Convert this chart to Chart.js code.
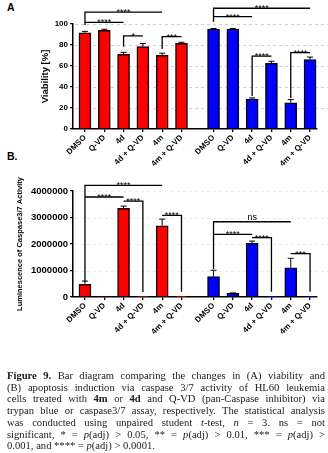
<!DOCTYPE html>
<html>
<head>
<meta charset="utf-8">
<script src="https://cdn.jsdelivr.net/npm/chart.js@4.4.0/dist/chart.umd.min.js"></script>
<style>
  body { margin: 0; background: #fff; width: 328px; height: 453px; overflow: hidden; position: relative; }
  canvas { position: absolute; left: 0; }
  #chartA { top: 0; }
  #chartB { top: 150px; }
  .tag { position: absolute; left: 7px; font: bold 10.5px 'Liberation Sans', Arial, sans-serif; line-height: 10px; color: #000; }
  #caption { position: absolute; left: 7px; top: 370px; width: 318px; font-family: 'Liberation Serif', 'Times New Roman', serif; font-size: 10.6px; line-height: 11.7px; color: #1a1a1a; }
  #caption .ln { text-align: justify; text-align-last: justify; white-space: nowrap; }
  #caption .last { text-align-last: left; }
</style>
</head>
<body>
<div class="tag" style="top:2px">A</div>
<div class="tag" style="top:151px">B.</div>
<canvas id="chartA" width="328" height="170"></canvas>
<canvas id="chartB" width="328" height="195"></canvas>
<div id="caption">
  <div class="ln"><b>Figure 9.</b> Bar diagram comparing the changes in (A) viability and</div>
  <div class="ln">(B) apoptosis induction via caspase 3/7 activity of HL60 leukemia</div>
  <div class="ln">cells treated with <b>4m</b> or <b>4d</b> and Q-VD (pan-Caspase inhibitor) via</div>
  <div class="ln">trypan blue or caspase3/7 assay, respectively. The statistical analysis</div>
  <div class="ln">was conducted using unpaired student <i>t</i>-test, <i>n</i> = 3. ns = not</div>
  <div class="ln">significant, * = <i>p</i>(adj) &gt; 0.05, ** = <i>p</i>(adj) &gt; 0.01, *** = <i>p</i>(adj) &gt;</div>
  <div class="ln last">0.001, and **** = <i>p</i>(adj) &gt; 0.0001.</div>
</div>
<script>
var groups = ['DMSO', 'Q-VD', '4d', '4d + Q-VD', '4m', '4m + Q-VD'];

// (A) viability, %
var viabilityRed = [91.7, 94, 71, 78.4, 70.2, 81.6];
var viabilityRedErr = [1.3, 1, 2, 3, 2, 1];
var viabilityBlue = [95.2, 95.2, 28.6, 62.5, 25, 66];
var viabilityBlueErr = [0.5, 0.5, 1, 2, 3, 2.5];
var viabilityTicks = [0, 20, 40, 60, 80, 100];

// (B) caspase 3/7 luminescence
var caspaseRed = [480000, 25000, 3350000, 15000, 2690000, 15000];
var caspaseRedErr = [120000, 0, 80000, 0, 250000, 0];
var caspaseBlue = [770000, 140000, 2030000, 15000, 1100000, 15000];
var caspaseBlueErr = [240000, 15000, 80000, 0, 360000, 0];
var caspaseTicks = [0, 1000000, 2000000, 3000000, 4000000];

// significance brackets: bar indices 0-11, heights in axis units
var viabilityBrackets = [
  { from: 0, to: 4, y: 111.4, dropLeft: 99, label: '****' },
  { from: 0, to: 2, y: 101.6, label: '****' },
  { from: 2, to: 3, y: 88.6, dropLeft: 78.4, label: '*' },
  { from: 4, to: 5, y: 87.9, dropLeft: 76.2, label: '***' },
  { from: 6, to: 11, y: 115, dropLeft: 102.2, label: '****' },
  { from: 6, to: 8, y: 107, label: '****' },
  { from: 8, to: 9, y: 69.5, dropLeft: 31.4, label: '****' },
  { from: 10, to: 11, y: 72.7, dropLeft: 29.5, label: '****' }
];
var caspaseBrackets = [
  { from: 0, to: 4, y: 4215000, dropLeft: 577000, label: '****' },
  { from: 0, to: 2, y: 3774000, label: '****' },
  { from: 2, to: 3, y: 3620000, dropRight: 190000, label: '****' },
  { from: 4, to: 5, y: 3080000, dropRight: 200000, label: '****' },
  { from: 6, to: 10, y: 2840000, dropLeft: 1057000, label: 'ns' },
  { from: 6, to: 8, y: 2366000, label: '****' },
  { from: 8, to: 9, y: 2240000, dropRight: 200000, label: '****' },
  { from: 10, to: 11, y: 1640000, dropRight: 200000, label: '***' }
];

var groupGap = 0.66;
var barPos = [];
for (var i = 0; i < groups.length * 2; i++) {
  barPos.push(i < groups.length ? i : i + groupGap);
}
var barLabels = groups.concat(groups);

Chart.defaults.font.family = "'Liberation Sans', Arial, sans-serif";
Chart.defaults.color = '#000';

function toPoints(values, offset) {
  return values.map(function(v, i) { return { x: barPos[i + offset], y: v }; });
}

var errorBars = {
  id: 'errorBars',
  afterDatasetsDraw: function(chart) {
    var ctx = chart.ctx, ys = chart.scales.y;
    ctx.save();
    ctx.strokeStyle = '#000';
    ctx.lineWidth = 1;
    chart.data.datasets.forEach(function(ds, i) {
      chart.getDatasetMeta(i).data.forEach(function(bar, j) {
        var err = ds.errors[j];
        if (!err) return;
        var top = ys.getPixelForValue(ds.data[j].y + err);
        ctx.beginPath();
        ctx.moveTo(bar.x, bar.y);
        ctx.lineTo(bar.x, top);
        ctx.moveTo(bar.x - 3, top);
        ctx.lineTo(bar.x + 3, top);
        ctx.stroke();
      });
    });
    ctx.restore();
  }
};

function dashedGrid(ticks, color) {
  return {
    id: 'dashedGrid',
    beforeDatasetsDraw: function(chart) {
      var ctx = chart.ctx, ys = chart.scales.y, area = chart.chartArea;
      ctx.save();
      ctx.strokeStyle = color;
      ctx.lineWidth = 1;
      ctx.setLineDash([3, 3]);
      ticks.forEach(function(t) {
        if (t === 0) return;
        var y = Math.round(ys.getPixelForValue(t)) + 0.5;
        ctx.beginPath();
        ctx.moveTo(area.left + 2, y);
        ctx.lineTo(chart.width, y);
        ctx.stroke();
      });
      ctx.restore();
    }
  };
}

function bracketPlugin(list) {
  return {
    id: 'brackets',
    afterDatasetsDraw: function(chart) {
      var ctx = chart.ctx, xs = chart.scales.x, ys = chart.scales.y;
      ctx.save();
      ctx.strokeStyle = '#000';
      ctx.fillStyle = '#000';
      ctx.lineWidth = 1.3;
      ctx.textAlign = 'center';
      ctx.textBaseline = 'alphabetic';
      list.forEach(function(b) {
        var x1 = xs.getPixelForValue(barPos[b.from]);
        var x2 = xs.getPixelForValue(barPos[b.to]);
        var y = ys.getPixelForValue(b.y);
        ctx.beginPath();
        if (b.dropLeft != null) {
          ctx.moveTo(x1, ys.getPixelForValue(b.dropLeft));
          ctx.lineTo(x1, y);
        } else {
          ctx.moveTo(x1, y);
        }
        ctx.lineTo(x2, y);
        if (b.dropRight != null) ctx.lineTo(x2, ys.getPixelForValue(b.dropRight));
        ctx.stroke();
        if (b.label === 'ns') {
          ctx.font = "9px 'Liberation Sans', Arial, sans-serif";
          ctx.fillText(b.label, (x1 + x2) / 2, y - 2);
        } else {
          ctx.font = "9px 'Liberation Sans', Arial, sans-serif";
          ctx.fillText(b.label, (x1 + x2) / 2, y + 3);
        }
      });
      ctx.restore();
    }
  };
}

function makeChart(id, opts) {
  var canvas = document.getElementById(id);
  return new Chart(canvas.getContext('2d'), {
    type: 'bar',
    data: {
      datasets: [{
        data: toPoints(opts.red, 0),
        errors: opts.redErr,
        backgroundColor: '#ff0000',
        borderColor: '#1a0000',
        borderWidth: 1.5
      }, {
        data: toPoints(opts.blue, groups.length),
        errors: opts.blueErr,
        backgroundColor: '#0000ff',
        borderColor: '#00001a',
        borderWidth: 1.5
      }]
    },
    options: {
      responsive: false,
      animation: false,
      layout: { padding: { top: opts.top, right: 11, left: 0, bottom: 0 } },
      datasets: { bar: { grouped: false, barThickness: 12 } },
      plugins: { legend: { display: false }, tooltip: { enabled: false } },
      scales: {
        x: {
          type: 'linear',
          min: -0.62,
          max: 12.02,
          offset: false,
          afterBuildTicks: function(s) {
            s.ticks = barPos.map(function(v) { return { value: v }; });
          },
          afterFit: function(s) { s.height = opts.xHeight; },
          ticks: {
            autoSkip: false,
            maxRotation: 45,
            minRotation: 45,
            padding: 1,
            color: '#000',
            font: { size: 8, weight: 'bold' },
            callback: function(v, i) { return barLabels[i]; }
          },
          grid: { offset: false, drawOnChartArea: false, drawTicks: true, tickLength: 3, color: '#000', lineWidth: 1.3 },
          border: { display: true, color: '#000', width: 1.5 }
        },
        y: {
          min: 0,
          max: opts.ticks[opts.ticks.length - 1],
          afterBuildTicks: function(s) {
            s.ticks = opts.ticks.map(function(v) { return { value: v }; });
          },
          afterFit: function(s) { s.width = 73; },
          title: {
            display: true,
            text: opts.title,
            color: '#000',
            font: { size: opts.titleSize, weight: 'bold' },
            padding: { top: opts.titlePad, bottom: 0 }
          },
          ticks: {
            color: '#000',
            padding: 2,
            font: { size: opts.tickSize, weight: 'bold' },
            callback: function(v) { return String(v); }
          },
          grid: { drawOnChartArea: false, drawTicks: true, tickLength: 3, color: '#000', lineWidth: 1.3 },
          border: { display: true, color: '#000', width: 1.5 }
        }
      }
    },
    plugins: [dashedGrid(opts.ticks, opts.gridColor), errorBars, bracketPlugin(opts.brackets)]
  });
}

makeChart('chartA', {
  red: viabilityRed, redErr: viabilityRedErr,
  blue: viabilityBlue, blueErr: viabilityBlueErr,
  ticks: viabilityTicks, brackets: viabilityBrackets,
  title: 'Viability [%]', titleSize: 9.5, titlePad: 40, tickSize: 8,
  top: 24, xHeight: 41, gridColor: '#cfcfcf'
});

makeChart('chartB', {
  red: caspaseRed, redErr: caspaseRedErr,
  blue: caspaseBlue, blueErr: caspaseBlueErr,
  ticks: caspaseTicks, brackets: caspaseBrackets,
  title: 'Luminescence of Caspase3/7 Activity', titleSize: 7.5, titlePad: 15.5, tickSize: 9.5,
  top: 41, xHeight: 48, gridColor: '#ececec'
});
</script>
</body>
</html>
